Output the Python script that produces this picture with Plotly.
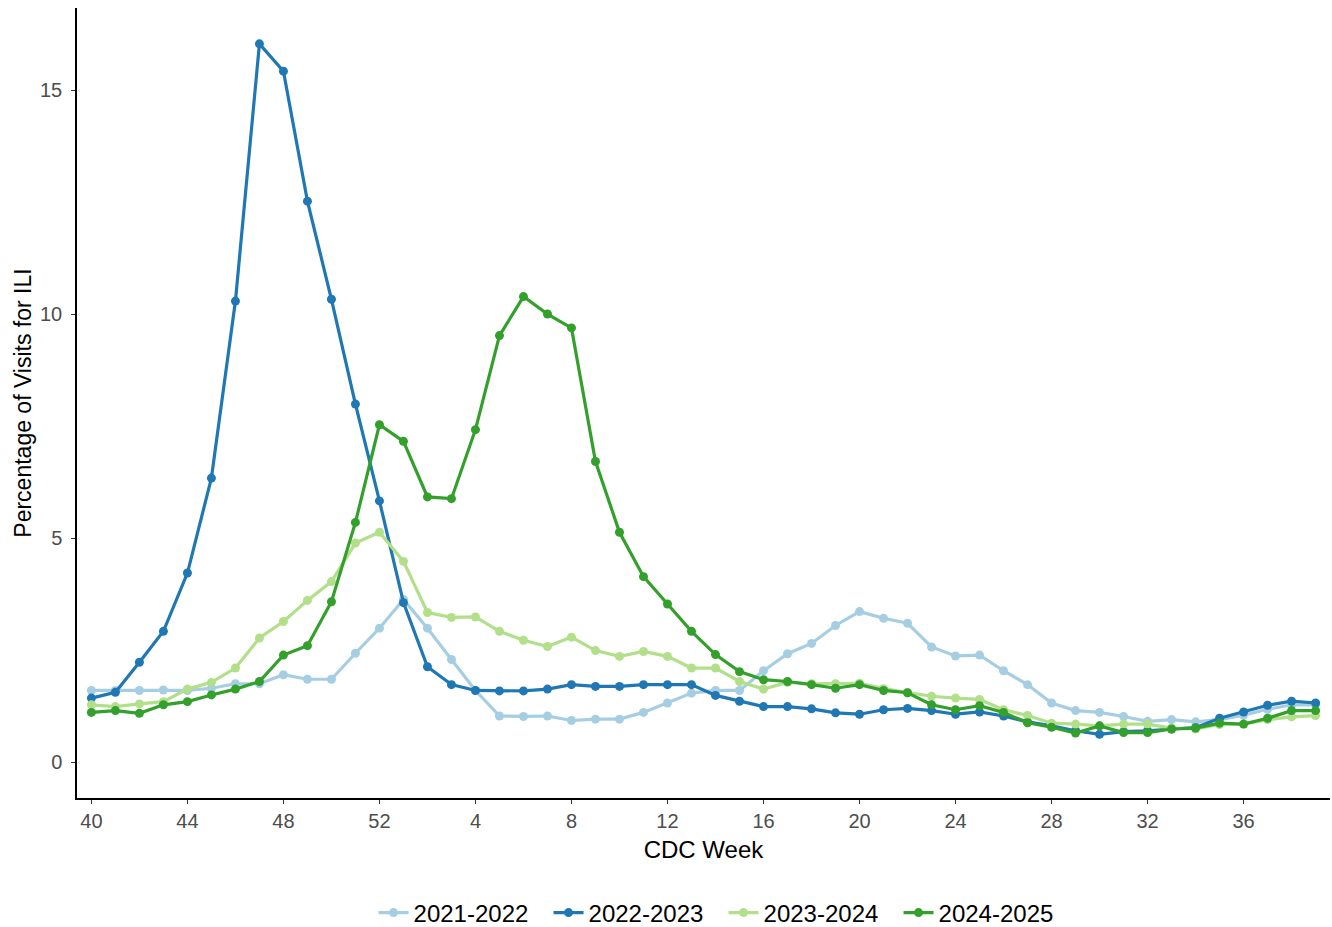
import plotly.graph_objects as go

week_labels = [str(w) for w in list(range(40, 53)) + list(range(1, 40))]
tick_labels = ["40", "44", "48", "52", "4", "8", "12", "16", "20", "24", "28", "32", "36"]

seasons = ["2021-2022", "2022-2023", "2023-2024", "2024-2025"]
colors = ["#A6CEE3", "#1F78B4", "#B2DF8A", "#33A02C"]

s2122 = [1.60, 1.60, 1.60, 1.61, 1.60, 1.65, 1.75, 1.75, 1.95, 1.85, 1.85, 2.43, 2.99,
         3.63, 2.99, 2.29, 1.60, 1.03, 1.02, 1.03, 0.93, 0.96, 0.96, 1.11, 1.32, 1.54,
         1.60, 1.60, 2.04, 2.42, 2.65, 3.05, 3.36, 3.21, 3.10, 2.57, 2.37, 2.39, 2.04,
         1.73, 1.32, 1.15, 1.11, 1.02, 0.91, 0.95, 0.90, 0.95, 1.05, 1.18, 1.28, 1.28]
s2223 = [1.43, 1.56, 2.23, 2.92, 4.22, 6.34, 10.29, 16.03, 15.42, 12.52, 10.33, 7.99, 5.83,
         3.56, 2.13, 1.73, 1.60, 1.59, 1.59, 1.63, 1.73, 1.69, 1.69, 1.73, 1.73, 1.73,
         1.49, 1.36, 1.24, 1.24, 1.19, 1.10, 1.07, 1.17, 1.20, 1.15, 1.07, 1.12, 1.03,
         0.90, 0.81, 0.70, 0.62, 0.68, 0.70, 0.74, 0.77, 0.98, 1.12, 1.27, 1.36, 1.32]
s2324 = [1.28, 1.24, 1.30, 1.35, 1.63, 1.78, 2.10, 2.77, 3.14, 3.61, 4.03, 4.89, 5.13,
         4.48, 3.34, 3.23, 3.24, 2.92, 2.72, 2.58, 2.79, 2.49, 2.36, 2.47, 2.36, 2.10,
         2.10, 1.80, 1.63, 1.78, 1.75, 1.75, 1.76, 1.64, 1.55, 1.47, 1.43, 1.40, 1.17,
         1.04, 0.87, 0.85, 0.81, 0.85, 0.85, 0.76, 0.74, 0.84, 0.85, 0.95, 1.01, 1.04]
s2425 = [1.11, 1.15, 1.09, 1.28, 1.35, 1.50, 1.63, 1.80, 2.39, 2.60, 3.58, 5.35, 7.53,
         7.16, 5.92, 5.88, 7.42, 9.52, 10.39, 10.00, 9.69, 6.71, 5.13, 4.14, 3.53, 2.92,
         2.40, 2.02, 1.84, 1.80, 1.73, 1.65, 1.73, 1.60, 1.55, 1.28, 1.17, 1.26, 1.11,
         0.88, 0.78, 0.65, 0.81, 0.66, 0.66, 0.74, 0.76, 0.87, 0.85, 0.98, 1.15, 1.15]

series = [s2122, s2223, s2324, s2425]
x_idx = list(range(len(week_labels)))
tick_vals = [week_labels.index(t) for t in tick_labels]

FONT = "Liberation Sans, Arial, sans-serif"

fig = go.Figure()
for name, col, vals in zip(seasons, colors, series):
    fig.add_trace(go.Scatter(
        x=x_idx, y=vals, name=name, mode="lines+markers",
        line=dict(color=col, width=3.2),
        marker=dict(color=col, size=9),
        customdata=week_labels,
        hovertemplate="Week %{customdata}: %{y:.2f}%<extra>" + name + "</extra>",
    ))

fig.update_layout(
    width=1332, height=927,
    paper_bgcolor="white", plot_bgcolor="white",
    margin=dict(l=77, r=2, t=8, b=129, autoexpand=False),
    font=dict(family=FONT, color="black"),
    showlegend=True,
    legend=dict(orientation="h", x=0.516, xanchor="center", y=-0.1456, yanchor="middle",
                font=dict(size=24, color="black"), itemwidth=30, traceorder="normal",
                entrywidth=130, entrywidthmode="pixels"),
    xaxis=dict(
        range=[-0.6, 51.6], tickmode="array", tickvals=tick_vals, ticktext=tick_labels,
        showline=True, linecolor="black", linewidth=1.5, mirror=False,
        ticks="outside", ticklen=4, tickwidth=1.2, tickcolor="#333333",
        tickfont=dict(size=20, color="#4D4D4D"), showgrid=False, zeroline=False,
        automargin=False,
        title=dict(text="CDC Week", font=dict(size=24, color="black"), standoff=10),
    ),
    yaxis=dict(
        range=[-0.8, 16.83], tickmode="array", tickvals=[0, 5, 10, 15],
        showline=True, linecolor="black", linewidth=1.5,
        ticks="outside", ticklen=4, tickwidth=1.2, tickcolor="#333333",
        tickfont=dict(size=20, color="#4D4D4D"), showgrid=False, zeroline=False,
        ticklabelstandoff=5,
        automargin=False,
        title=dict(text="Percentage of Visits for ILI", font=dict(size=23, color="black"), standoff=2),
    ),
)

fig.write_html(
    "out.html",
    config={"displayModeBar": False},
    post_script="document.body.style.margin='0';document.body.style.overflow='hidden';",
)
